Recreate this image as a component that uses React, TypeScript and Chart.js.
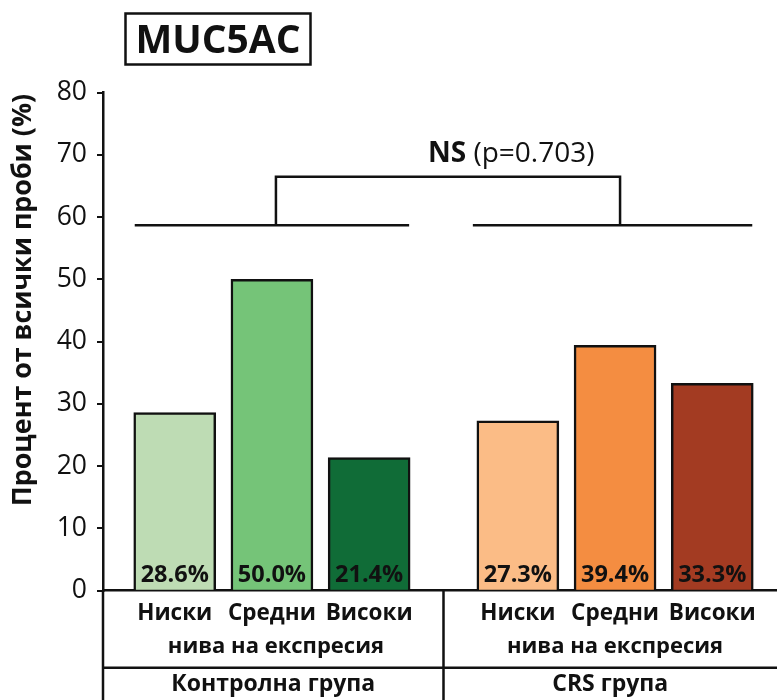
import React, { useEffect, useRef } from 'react';
import { Chart, registerables } from 'chart.js';

Chart.register(...registerables);

// ---- data ----
const levelLabels = ['Ниски', 'Средни', 'Високи'];
const groupLabels = ['Контролна група', 'CRS група'];
const subLabel = 'нива на експресия';
const controlValues = [28.6, 50.0, 21.4];
const crsValues = [27.3, 39.4, 33.3];
const controlColors = ['#bedcb4', '#75c478', '#106c37'];
const crsColors = ['#fbbc86', '#f48d41', '#a33b22'];
const chartTitle = 'MUC5AC';
const yAxisTitle = 'Процент от всички проби (%)';
const statBold = 'NS';
const statText = '(p=0.703)';
const bracketBase = 58.7;
const bracketTop = 66.5;
const yMin = 0;
const yMax = 80;
const yStep = 10;

// ---- layout constants ----
const W = 777;
const H = 700;
const GROUP_GAP = 3.53;
const FONT = '"Open Sans", "DejaVu Sans", sans-serif';
const INK = '#111';

const positions = [
  ...controlValues.map((_, i) => i),
  ...crsValues.map((_, i) => i + GROUP_GAP),
];
const values = [...controlValues, ...crsValues];
const colors = [...controlColors, ...crsColors];
const tickNames = [...levelLabels, ...levelLabels];

const overlay = {
  id: 'overlay',
  afterDatasetsDraw(chart: any) {
    const { ctx, scales } = chart;
    const y = scales.y;
    const meta = chart.getDatasetMeta(0);
    ctx.save();
    ctx.fillStyle = INK;
    ctx.font = `bold 23.5px ${FONT}`;
    ctx.textAlign = 'center';
    ctx.textBaseline = 'alphabetic';
    const base = y.getPixelForValue(0);
    meta.data.forEach((bar: any, i: number) => {
      ctx.fillText(values[i].toFixed(1) + '%', bar.x, base - 9);
    });
    ctx.restore();
  },
  afterDraw(chart: any) {
    const { ctx, chartArea, scales } = chart;
    const x = scales.x;
    const y = scales.y;
    const xs = positions.map((p) => x.getPixelForValue(p));
    ctx.save();
    ctx.strokeStyle = INK;
    ctx.fillStyle = INK;
    ctx.lineWidth = 2.5;

    // title box
    ctx.strokeRect(125.5, 13.5, 185, 51);
    ctx.font = `bold 39px ${FONT}`;
    ctx.textAlign = 'center';
    ctx.textBaseline = 'alphabetic';
    ctx.fillText(chartTitle, 218, 53);

    // y axis title
    ctx.save();
    ctx.translate(31, 300);
    ctx.rotate(-Math.PI / 2);
    ctx.font = `bold 26.8px ${FONT}`;
    ctx.textAlign = 'center';
    ctx.fillText(yAxisTitle, 0, 0);
    ctx.restore();

    // significance bracket
    const yb = y.getPixelForValue(bracketBase);
    const yt = y.getPixelForValue(bracketTop);
    const v1 = xs[1] + 4;
    const v2 = xs[4] + 5;
    ctx.beginPath();
    ctx.moveTo(xs[0] - 40, yb);
    ctx.lineTo(xs[2] + 40, yb);
    ctx.moveTo(xs[3] - 45, yb);
    ctx.lineTo(xs[5] + 40, yb);
    ctx.moveTo(v1, yb);
    ctx.lineTo(v1, yt);
    ctx.lineTo(v2, yt);
    ctx.lineTo(v2, yb);
    ctx.stroke();

    ctx.textAlign = 'left';
    ctx.font = `bold 28px ${FONT}`;
    const wBold = ctx.measureText(statBold + ' ').width;
    ctx.fillText(statBold + ' ', 428, yt - 15);
    ctx.font = `28px ${FONT}`;
    ctx.fillText(statText, 428 + wBold, yt - 15);

    // table below the axis
    const left = chartArea.left;
    const bottom = chartArea.bottom;
    const divider = (xs[2] + xs[3]) / 2;
    ctx.beginPath();
    ctx.moveTo(left, bottom);
    ctx.lineTo(left, H);
    ctx.moveTo(divider, bottom);
    ctx.lineTo(divider, H);
    ctx.moveTo(left, bottom + 77);
    ctx.lineTo(W, bottom + 77);
    ctx.stroke();

    ctx.textAlign = 'center';
    ctx.font = `bold 22px ${FONT}`;
    ctx.fillText(subLabel, xs[1] + 4, bottom + 62);
    ctx.fillText(subLabel, xs[4], bottom + 62);
    ctx.font = `bold 23px ${FONT}`;
    ctx.fillText(groupLabels[0], (left + divider) / 2, bottom + 100);
    ctx.fillText(groupLabels[1], (divider + W) / 2, bottom + 100);
    ctx.restore();
  },
};

export default function App() {
  const ref = useRef<HTMLCanvasElement | null>(null);
  useEffect(() => {
    if (!ref.current) return;
    const chart = new Chart(ref.current, {
      type: 'bar',
      data: {
        datasets: [
          {
            data: positions.map((p, i) => ({ x: p, y: values[i] })),
            backgroundColor: colors,
            borderColor: INK,
            borderWidth: 2.5,
            barThickness: 82,
          },
        ],
      },
      options: {
        animation: false,
        responsive: false,
        devicePixelRatio: 1,
        layout: { padding: { top: 92.7, left: 0, right: 0, bottom: 0 } },
        plugins: {
          legend: { display: false },
          tooltip: { enabled: false },
          title: { display: false },
        },
        scales: {
          x: {
            type: 'linear',
            min: -0.738,
            max: 6.196,
            offset: false,
            grid: { display: false, drawTicks: false },
            border: { display: true, color: INK, width: 2.5 },
            afterBuildTicks: (s: any) => {
              s.ticks = positions.map((v) => ({ value: v }));
            },
            afterFit: (s: any) => {
              s.height = H - 590.7;
            },
            ticks: {
              autoSkip: false,
              maxRotation: 0,
              padding: 9,
              color: INK,
              font: { family: FONT, size: 22.5, weight: 'bold' },
              callback: (_v: any, i: number) => tickNames[i],
            },
          },
          y: {
            min: yMin,
            max: yMax,
            ticks: {
              stepSize: yStep,
              padding: 10,
              color: INK,
              font: { family: FONT, size: 26.5 },
            },
            grid: {
              drawOnChartArea: false,
              drawTicks: true,
              tickLength: 6,
              color: INK,
              lineWidth: 2,
            },
            border: { display: true, color: INK, width: 2.5 },
            afterFit: (s: any) => {
              s.width = 103;
            },
          },
        },
      } as any,
      plugins: [overlay],
    });
    return () => chart.destroy();
  }, []);
  return (
    <div style={{ position: 'absolute', left: 0, top: 0, width: W, height: H, background: '#fff' }}>
      <canvas ref={ref} width={W} height={H} />
    </div>
  );
}
